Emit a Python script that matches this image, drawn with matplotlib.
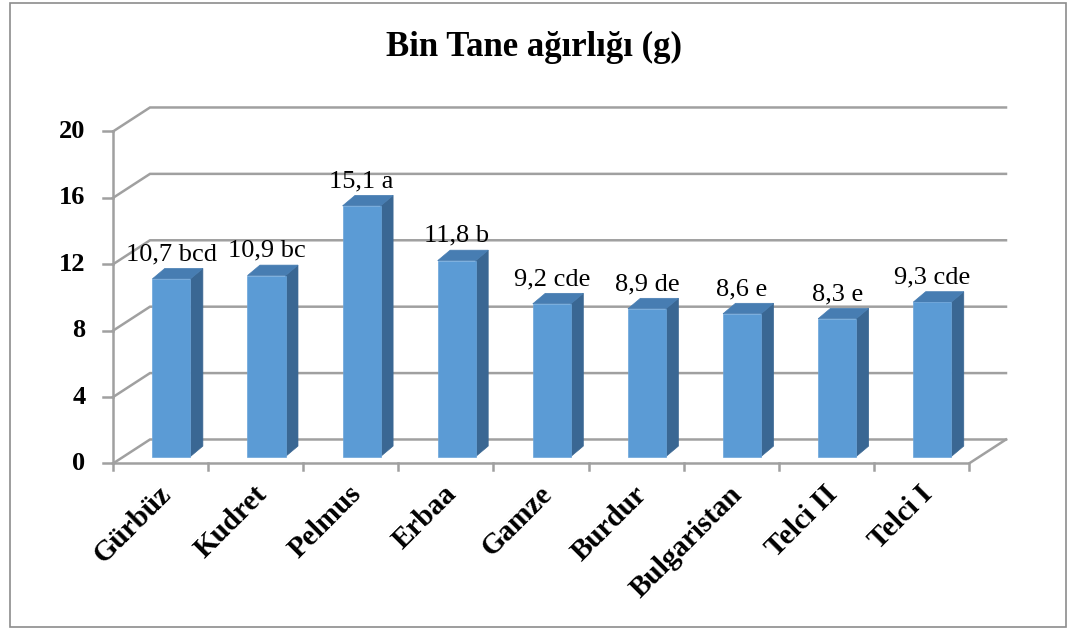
import matplotlib
matplotlib.use("Agg")
import matplotlib.pyplot as plt
from matplotlib.patches import Polygon, Rectangle

# ---- data -------------------------------------------------------------
varieties = ["Gürbüz", "Kudret", "Pelmus", "Erbaa", "Gamze", "Burdur",
             "Bulgaristan", "Telci II", "Telci I"]
weights = [10.7, 10.9, 15.1, 11.8, 9.2, 8.9, 8.6, 8.3, 9.3]
groups = ["bcd", "bc", "a", "b", "cde", "de", "e", "e", "cde"]
y_ticks = [0, 4, 8, 12, 16, 20]
title = "Bin Tane ağırlığı (g)"

# ---- style ------------------------------------------------------------
SERIF = ["Liberation Serif", "DejaVu Serif"]
GRID = "#a0a0a0"
FRONT = "#5b9bd5"
SIDE = "#3a6793"
TOP = "#477db2"

W, H = 1068, 630
fig = plt.figure(figsize=(W / 100, H / 100), dpi=100)
ax = fig.add_axes([0, 0, 1, 1])
ax.set_axis_off()

# axis limits chosen so that one category slot ~95 px and one unit ~16.6 px
ax.set_xlim(-1.688, 9.541)
ax.set_ylim(-10.03, 27.92)

n = len(varieties)
x_left, x_right = -0.5, n - 0.5
y_max = y_ticks[-1]

# oblique depth of the plot box (back wall offset)
wall_dx, wall_dy = 0.389, 1.446
# position of the bar front faces inside the box, bar size and depth
bar_dx, bar_dy = 0.114, 0.42
bar_w = 0.40
depth_dx, depth_dy = 0.131, 0.63

# ---- walls, floor and gridlines ---------------------------------------
lw = 1.8
for v in y_ticks:
    # side wall diagonal + back wall line
    ax.plot([x_left, x_left + wall_dx, x_right + wall_dx],
            [v, v + wall_dy, v + wall_dy], color=GRID, lw=lw,
            solid_joinstyle="miter", zorder=1)
    # tick mark on the value axis
    ax.plot([x_left - 0.105, x_left], [v, v], color=GRID, lw=lw, zorder=1)
    ax.text(x_left - 0.29, v, str(v), ha="right", va="center",
            fontsize=19, fontweight="bold", family=SERIF, zorder=3)

# vertical value axis
ax.plot([x_left, x_left], [0, y_max], color=GRID, lw=lw, zorder=1)
# front edge of the floor and its right-hand diagonal
ax.plot([x_left, x_right, x_right + wall_dx], [0, 0, wall_dy],
        color=GRID, lw=lw, solid_joinstyle="miter", zorder=1)
# category tick marks
for k in range(n + 1):
    ax.plot([x_left + k, x_left + k], [0, -0.42], color=GRID, lw=lw, zorder=1)

# ---- bars -------------------------------------------------------------
for i, (v, g) in enumerate(zip(weights, groups)):
    x0 = i - bar_w / 2 + bar_dx
    x1 = i + bar_w / 2 + bar_dx
    y0 = bar_dy
    y1 = v + bar_dy
    front = [(x0, y0), (x1, y0), (x1, y1), (x0, y1)]
    side = [(x1, y0), (x1 + depth_dx, y0 + depth_dy),
            (x1 + depth_dx, y1 + depth_dy), (x1, y1)]
    top = [(x0, y1), (x0 + depth_dx, y1 + depth_dy),
           (x1 + depth_dx, y1 + depth_dy), (x1, y1)]
    ax.add_patch(Polygon(side, closed=True, facecolor=SIDE,
                         edgecolor=SIDE, lw=0.5, zorder=2))
    ax.add_patch(Polygon(top, closed=True, facecolor=TOP,
                         edgecolor=TOP, lw=0.5, zorder=2))
    ax.add_patch(Polygon(front, closed=True, facecolor=FRONT,
                         edgecolor="#6ba5da", lw=0.5, zorder=2))
    label = f"{v:.1f}".replace(".", ",") + " " + g
    ax.text(i + bar_dx, y1 + depth_dy + 0.5, label, ha="center",
            va="baseline", fontsize=19, family=SERIF, zorder=3)

# ---- category labels --------------------------------------------------
for i, name in enumerate(varieties):
    ax.text(i + 0.07, -1.6, name, rotation=45, rotation_mode="anchor",
            ha="right", va="center", fontsize=21, fontweight="bold",
            family=SERIF, zorder=3)

# ---- title and frame --------------------------------------------------
fig.text(0.5, 1 - 56 / H, title, ha="center", va="baseline",
         fontsize=25, fontweight="bold", family=SERIF)
fig.patches.append(Rectangle((10 / W, 3 / H), 1056 / W, 624 / H,
                             transform=fig.transFigure, fill=False,
                             edgecolor="#8c8c8c", lw=1.2))

fig.savefig("out.png", dpi=100)
